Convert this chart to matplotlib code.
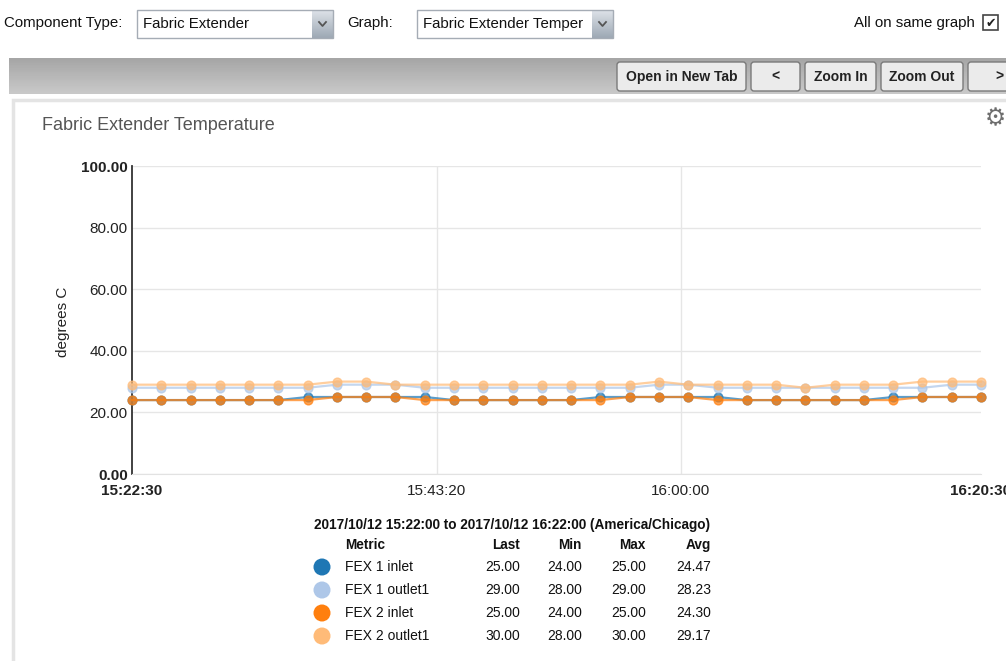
import matplotlib
matplotlib.use('Agg')
import matplotlib.pyplot as plt
from matplotlib.patches import Rectangle, FancyBboxPatch, Circle
import numpy as np
import pandas as pd

plt.rcParams['font.family'] = ['Liberation Sans', 'DejaVu Sans']

# sample times, one every 2 minutes
times = pd.date_range('2017-10-12 15:22:30', '2017-10-12 16:20:30', freq='2min')

metrics = ['FEX 1 inlet', 'FEX 1 outlet1', 'FEX 2 inlet', 'FEX 2 outlet1']
colors = ['#1f77b4', '#aec7e8', '#ff7f0e', '#ffbb78']

fex1_inlet = [24, 24, 24, 24, 24, 24, 25, 25, 25, 25, 25, 24, 24, 24, 24,
              24, 25, 25, 25, 25, 25, 24, 24, 24, 24, 24, 25, 25, 25, 25]
fex1_outlet = [28, 28, 28, 28, 28, 28, 28, 29, 29, 29, 28, 28, 28, 28, 28,
               28, 28, 28, 29, 29, 28, 28, 28, 28, 28, 28, 28, 28, 29, 29]
fex2_inlet = [24, 24, 24, 24, 24, 24, 24, 25, 25, 25, 24, 24, 24, 24, 24,
              24, 24, 25, 25, 25, 24, 24, 24, 24, 24, 24, 24, 25, 25, 25]
fex2_outlet = [29, 29, 29, 29, 29, 29, 29, 30, 30, 29, 29, 29, 29, 29, 29,
               29, 29, 29, 30, 29, 29, 29, 29, 28, 29, 29, 29, 30, 30, 30]

xtick_labels = ['15:22:30', '15:43:20', '16:00:00', '16:20:30']
ytick_values = [0, 20, 40, 60, 80, 100]

W, H = 1006, 661


def draw_button(bg, x0, x1, y0, y1, label):
    btn = FancyBboxPatch((x0, y0), x1 - x0, y1 - y0,
                         boxstyle='round,pad=0,rounding_size=3',
                         facecolor='#ebebeb', edgecolor='#7a7a7a', lw=1)
    bg.add_patch(btn)
    bg.text((x0 + x1) / 2, (y0 + y1) / 2 + 0.5, label, ha='center', va='center',
            fontsize=10, fontweight='bold', color='#222')


def draw_dropdown(bg, x0, x1, y0, y1, label):
    bg.text(x0 + 6, (y0 + y1) / 2, label, ha='left', va='center', fontsize=10.8, color='#111')
    bg.add_patch(Rectangle((x0, y0), x1 - x0, y1 - y0, facecolor='none',
                           edgecolor='#a5acb5', lw=1, zorder=3))
    # arrow button
    grad = np.linspace(0, 1, 30).reshape(-1, 1)
    bg.imshow(grad, extent=(x1 - 21, x1, y1, y0), aspect='auto', zorder=2,
              cmap=matplotlib.colors.LinearSegmentedColormap.from_list('a', ['#dde2e8', '#9ea9b5']))
    cx, cy = x1 - 10.5, (y0 + y1) / 2
    bg.plot([cx - 3.5, cx, cx + 3.5], [cy - 2, cy + 2, cy - 2], color='#555', lw=1.3, zorder=4)


def draw_ui(fig):
    bg = fig.add_axes([0, 0, 1, 1], zorder=0)
    bg.set_xlim(0, W)
    bg.set_ylim(H, 0)
    bg.axis('off')

    # top controls
    bg.text(4, 23, 'Component Type:', ha='left', va='center', fontsize=10.8, color='#111')
    draw_dropdown(bg, 137, 333, 10, 38, 'Fabric Extender')
    bg.text(347, 23, 'Graph:', ha='left', va='center', fontsize=10.8, color='#111')
    draw_dropdown(bg, 417, 613, 10, 38, 'Fabric Extender Temper')
    bg.text(975, 23, 'All on same graph', ha='right', va='center', fontsize=10.8, color='#111')
    bg.add_patch(Rectangle((983, 15), 15, 15, facecolor='white', edgecolor='#444', lw=1.2))
    bg.text(990.5, 23, '\u2714', ha='center', va='center', fontsize=9,
            color='#222', family='DejaVu Sans')

    # toolbar
    grad = np.linspace(0, 1, 40).reshape(-1, 1)
    bg.imshow(grad, extent=(9, W, 94, 58), aspect='auto', zorder=1,
              cmap=matplotlib.colors.LinearSegmentedColormap.from_list('t', ['#a6a6a6', '#c9c9c9']))
    draw_button(bg, 617, 746, 62, 91, 'Open in New Tab')
    draw_button(bg, 751, 800, 62, 91, '<')
    draw_button(bg, 805, 876, 62, 91, 'Zoom In')
    draw_button(bg, 881, 963, 62, 91, 'Zoom Out')
    draw_button(bg, 968, 1030, 62, 91, '>')

    # chart card
    bg.add_patch(Rectangle((13, 100), W + 20, H, facecolor='white', edgecolor='#e4e4e4', lw=2.5))
    bg.text(42, 125, 'Fabric Extender Temperature', ha='left', va='center',
            fontsize=13, color='#555')
    bg.text(995, 118, '\u2699', ha='center', va='center', fontsize=17,
            color='#6e6e6e', family='DejaVu Sans')
    bg.text(63, 322, 'degrees C', ha='center', va='center', rotation=90,
            fontsize=11, color='#222')
    return bg


def draw_legend(bg, series):
    bg.text(512, 525, '2017/10/12 15:22:00 to 2017/10/12 16:22:00 (America/Chicago)',
            ha='center', va='center', fontsize=9.8, fontweight='bold', color='#111')
    cols = [520, 582, 646, 711]
    bg.text(345, 545, 'Metric', ha='left', va='center', fontsize=9.8, fontweight='bold', color='#111')
    for cx, head in zip(cols, ['Last', 'Min', 'Max', 'Avg']):
        bg.text(cx, 545, head, ha='right', va='center', fontsize=9.8, fontweight='bold', color='#111')
    rows_y = [567, 590, 613, 636]
    for y, name, color, vals in zip(rows_y, metrics, colors, series):
        vals = np.array(vals, dtype=float)
        bg.add_patch(Circle((322, y), 8.5, facecolor=color, edgecolor='none'))
        bg.text(345, y, name, ha='left', va='center', fontsize=10, color='#111')
        stats = [vals[-1], vals.min(), vals.max(), vals.mean()]
        for cx, s in zip(cols, stats):
            bg.text(cx, y, f'{s:.2f}', ha='right', va='center', fontsize=10, color='#111')


def main():
    fig = plt.figure(figsize=(W / 100, H / 100), dpi=100)
    bg = draw_ui(fig)

    ax = fig.add_axes([132 / W, 1 - 474 / H, 849 / W, 308 / H], zorder=2)
    ax.patch.set_alpha(0)

    series = [fex1_inlet, fex1_outlet, fex2_inlet, fex2_outlet]
    for vals, color in zip(series, colors):
        ax.plot(times, vals, color=color, lw=1.6, marker='o', ms=6.3,
                mec=color, alpha=0.72, clip_on=False, zorder=3)

    ax.set_xlim(times[0], times[-1])
    ax.set_ylim(0, 100)
    xticks = [pd.Timestamp('2017-10-12 ' + t) for t in xtick_labels]
    ax.set_xticks(xticks)
    ax.set_xticklabels(xtick_labels)
    ax.set_yticks(ytick_values)
    ax.set_yticklabels([f'{v:.2f}' for v in ytick_values])
    ax.tick_params(length=0, labelsize=11, labelcolor='#222')
    ax.tick_params(axis='y', pad=3)
    ax.tick_params(axis='x', pad=7.5)
    for labels in (ax.get_xticklabels(), ax.get_yticklabels()):
        labels[0].set_fontweight('bold')
        labels[-1].set_fontweight('bold')

    ax.grid(True, color='#e6e6e6', lw=1)
    ax.get_xgridlines()[0].set_visible(False)
    ax.get_xgridlines()[-1].set_visible(False)
    ax.set_axisbelow(True)
    for side in ('top', 'right'):
        ax.spines[side].set_visible(False)
    ax.spines['left'].set_color('#333')
    ax.spines['left'].set_linewidth(1.3)
    ax.spines['bottom'].set_color('#e2e2e2')

    draw_legend(bg, series)

    fig.savefig('out.png', dpi=100)


if __name__ == "__main__":
    main()
